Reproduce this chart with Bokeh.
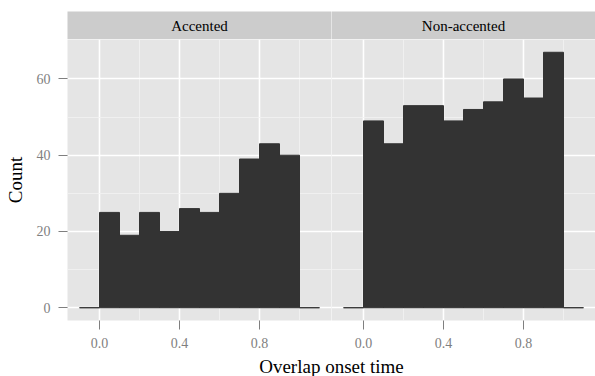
from bokeh.plotting import figure
from bokeh.layouts import column, row
from bokeh.models import Range1d, FixedTicker, NumeralTickFormatter
from bokeh.embed import file_html
from bokeh.resources import INLINE

# ---- data ----
panels = ["Accented", "Non-accented"]
bin_edges = [-0.1, 0.0, 0.1, 0.2, 0.3, 0.4, 0.5, 0.6, 0.7, 0.8, 0.9, 1.0, 1.1]
counts_accented = [0, 25, 19, 25, 20, 26, 25, 30, 39, 43, 40, 0]
counts_nonaccented = [0, 49, 43, 53, 53, 49, 52, 54, 60, 55, 67, 0]
x_ticks = [0.0, 0.4, 0.8]
x_minor = [0.2, 0.6, 1.0]
y_ticks = [0, 20, 40, 60]
y_minor = [10, 30, 50]
x_title = "Overlap onset time"
y_title = "Count"

FONT = "Liberation Serif"
PANEL_BG = "#E5E5E5"
STRIP_BG = "#CCCCCC"
BAR = "#333333"
GREY = "#7F7F7F"
FW, FH = 264, 281
LEFT = 67

lefts = bin_edges[:-1]
rights = bin_edges[1:]
xlo, xhi = bin_edges[0], bin_edges[-1]
xpad = 0.05 * (xhi - xlo)
ymax = max(max(counts_accented), max(counts_nonaccented))
ypad = 0.05 * ymax


def make_panel(counts, show_y):
    p = figure(frame_width=FW, frame_height=FH, output_backend="svg", toolbar_location=None,
               x_range=Range1d(xlo - xpad, xhi + xpad), y_range=Range1d(-ypad, ymax + ypad),
               min_border_left=LEFT if show_y else 0, min_border_right=0,
               min_border_top=0, min_border_bottom=0)
    p.background_fill_color = PANEL_BG
    p.border_fill_color = "white"
    p.outline_line_color = None
    p.quad(left=lefts, right=rights, top=counts, bottom=0,
           fill_color=BAR, line_color=BAR, line_width=1)
    p.xaxis.ticker = FixedTicker(ticks=x_ticks, minor_ticks=x_minor)
    p.yaxis.ticker = FixedTicker(ticks=y_ticks, minor_ticks=y_minor)
    p.xaxis.formatter = NumeralTickFormatter(format="0.0")
    for ax in (p.xaxis, p.yaxis):
        ax.axis_line_color = None
        ax.major_tick_line_color = GREY
        ax.major_tick_in = 0
        ax.major_tick_out = 9
        ax.minor_tick_line_color = None
        ax.major_label_text_font = FONT
        ax.major_label_text_font_size = "14px"
        ax.major_label_text_color = GREY
        ax.major_label_standoff = 8
    p.xgrid.ticker = FixedTicker(ticks=x_ticks, minor_ticks=x_minor)
    p.ygrid.ticker = FixedTicker(ticks=y_ticks, minor_ticks=y_minor)
    for g in (p.xgrid, p.ygrid):
        g.grid_line_color = "white"
        g.grid_line_width = 1.6
        g.minor_grid_line_color = "#F2F2F2"
        g.minor_grid_line_width = 0.8
    if show_y:
        p.yaxis.axis_label = y_title
        p.yaxis.axis_label_text_font = FONT
        p.yaxis.axis_label_text_font_size = "19px"
        p.yaxis.axis_label_text_font_style = "normal"
        p.yaxis.axis_label_text_color = "black"
        p.yaxis.axis_label_standoff = 8
    else:
        p.yaxis.visible = False
    return p


def make_text_box(label, fw, fh, left, top, bg, size):
    s = figure(frame_width=fw, frame_height=fh, output_backend="svg", toolbar_location=None,
               x_range=Range1d(0, 1), y_range=Range1d(0, 1),
               x_axis_location=None, y_axis_location=None,
               min_border_left=left, min_border_right=0, min_border_top=top, min_border_bottom=0)
    s.grid.visible = False
    s.background_fill_color = bg
    s.border_fill_color = "white"
    s.outline_line_color = None
    s.text(x=[0.5], y=[0.5], text=[label], text_align="center", text_baseline="middle",
           text_font=FONT, text_font_size=size, text_color="black")
    return s


s1 = make_text_box(panels[0], FW, 28, LEFT, 11, STRIP_BG, "15px")
s2 = make_text_box(panels[1], FW, 28, 0, 11, STRIP_BG, "15px")
p1 = make_panel(counts_accented, True)
p2 = make_panel(counts_nonaccented, False)
t = make_text_box(x_title, 2 * FW, 20, LEFT, 6, "white", "19px")

layout = column(row(s1, s2, spacing=0), row(p1, p2, spacing=0), t, spacing=0)

open("out.html", "w").write(file_html(layout, INLINE))
